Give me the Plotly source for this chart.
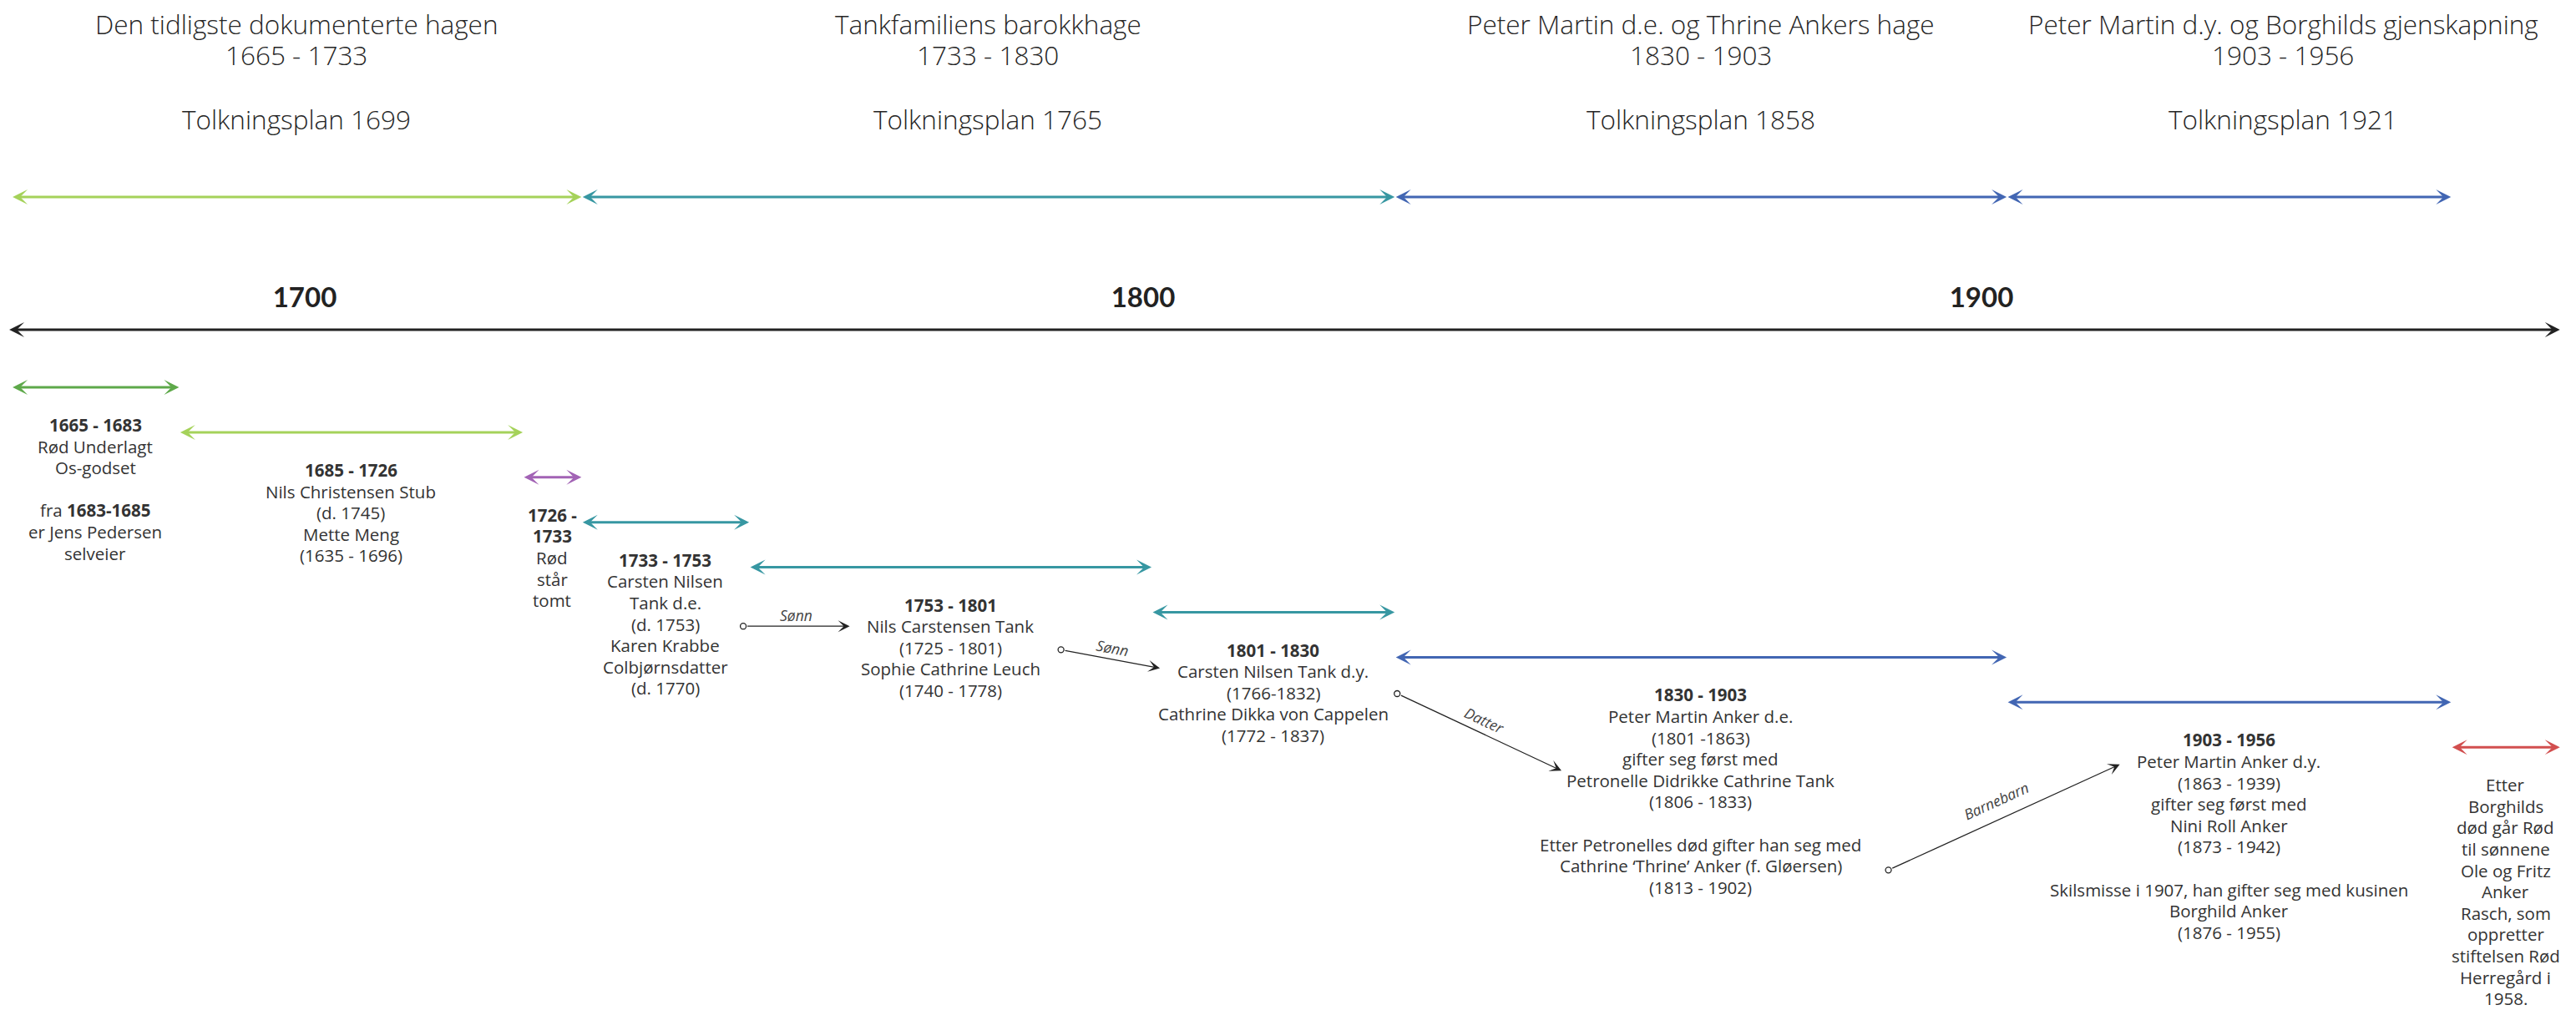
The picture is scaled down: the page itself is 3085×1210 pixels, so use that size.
import math
import plotly.graph_objects as go

# ---------------- data ----------------
period_titles = ["Den tidligste dokumenterte hagen", "Tankfamiliens barokkhage",
                 "Peter Martin d.e. og Thrine Ankers hage",
                 "Peter Martin d.y. og Borghilds gjenskapning"]
period_start = [1665, 1733, 1830, 1903]
period_end = [1733, 1830, 1903, 1956]
period_plans = ["Tolkningsplan 1699", "Tolkningsplan 1765", "Tolkningsplan 1858", "Tolkningsplan 1921"]
period_label_x = [1699, 1781.5, 1866.5, 1936]

century_ticks = [1700, 1800, 1900]
timeline_start = 1664.6
timeline_end = 1969

owner_start = [1665, 1685, 1726, 1733, 1753, 1801, 1830, 1903, 1956]
owner_end = [1685, 1726, 1733, 1753, 1801, 1830, 1903, 1956, 1969]
owner_lines = [
    ["<b>1665 - 1683</b>", "Rød Underlagt", "Os-godset", "", "fra <b>1683-1685</b>", "er Jens Pedersen", "selveier"],
    ["<b>1685 - 1726</b>", "Nils Christensen Stub", "(d. 1745)", "Mette Meng", "(1635 - 1696)"],
    ["<b>1726 -</b>", "<b>1733</b>", "Rød", "står", "tomt"],
    ["<b>1733 - 1753</b>", "Carsten Nilsen", "Tank d.e.", "(d. 1753)", "Karen Krabbe", "Colbjørnsdatter", "(d. 1770)"],
    ["<b>1753 - 1801</b>", "Nils Carstensen Tank", "(1725 - 1801)", "Sophie Cathrine Leuch", "(1740 - 1778)"],
    ["<b>1801 - 1830</b>", "Carsten Nilsen Tank d.y.", "(1766-1832)", "Cathrine Dikka von Cappelen", "(1772 - 1837)"],
    ["<b>1830 - 1903</b>", "Peter Martin Anker d.e.", "(1801 -1863)", "gifter seg først med",
     "Petronelle Didrikke Cathrine Tank", "(1806 - 1833)", "", "Etter Petronelles død gifter han seg med",
     "Cathrine ‘Thrine’ Anker (f. Gløersen)", "(1813 - 1902)"],
    ["<b>1903 - 1956</b>", "Peter Martin Anker d.y.", "(1863 - 1939)", "gifter seg først med", "Nini Roll Anker",
     "(1873 - 1942)", "", "Skilsmisse i 1907, han gifter seg med kusinen", "Borghild Anker", "(1876 - 1955)"],
    ["Etter", "Borghilds", "død går Rød", "til sønnene", "Ole og Fritz", "Anker", "Rasch, som", "oppretter",
     "stiftelsen Rød", "Herregård i", "1958."],
]

relation_from_year = [1752.3, 1790.2, 1830.3, 1888.9]
relation_to_year = [1765.0, 1802.0, 1849.9, 1916.5]
relation_labels = ["Sønn", "Sønn", "Datter", "Barnebarn"]

# ---------------- layout / style ----------------
PAGE_W, PAGE_H = 3085, 1210
BODY_MARGIN = 8                      # default browser body margin around the plot div
W = PAGE_W - BODY_MARGIN
H = PAGE_H - BODY_MARGIN
PX0 = 365.0                          # page pixel of the year 1700
PX_PER_YEAR = 10.04
x_range = [1700 - (PX0 - BODY_MARGIN) / PX_PER_YEAR,
           1700 + (BODY_MARGIN + W - PX0) / PX_PER_YEAR]
y_range = [BODY_MARGIN + H, BODY_MARGIN]   # page pixels, top-down

LT_GREEN = "#a5d25a"
DK_GREEN = "#5ea94a"
PURPLE = "#a263b5"
TEAL = "#3797a2"
BLUE = "#4266b3"
RED = "#d24f4f"
INK = "#222222"
TEXT = "#333333"

period_colors = [LT_GREEN, TEAL, BLUE, BLUE]
owner_colors = [DK_GREEN, LT_GREEN, PURPLE, TEAL, TEAL, TEAL, BLUE, BLUE, RED]

HEADER_LINE_Y = [28, 65, 142]
PERIOD_ARROW_Y = 236
AXIS_Y = 395
ROW0_Y = 464
ROW_STEP = 53.9
TEXT_GAP = 45
LINE_H = 25.6
FONT = "Open Sans"
BODY_SIZE = 20.5
HEADER_SIZE = 31.5


def row_y(i):
    return ROW0_Y + i * ROW_STEP


def line_y(row, line):
    return row_y(row) + TEXT_GAP + line * LINE_H


relation_from_pos = [(4, 1.0), (4, 2.1), (5, 2.05), (6, 8.2)]
relation_to_pos = [(4, 1.0), (5, 0.86), (6, 3.55), (7, 1.15)]
relation_label_offset = [13, 14, 16, 22]

fig = go.Figure()
annotations = []


def double_arrow(x0, x1, y, color, width=3, size=1.0):
    annotations.append(dict(
        x=x1, y=y, ax=x0, ay=y, xref="x", yref="y", axref="x", ayref="y",
        text="", showarrow=True, arrowside="end+start",
        arrowhead=3, startarrowhead=3, arrowsize=size, startarrowsize=size,
        arrowwidth=width, arrowcolor=color,
    ))


def text_line(x, y, txt, size, color, weight="normal"):
    if not txt:
        return
    annotations.append(dict(
        x=x, y=y, xref="x", yref="y", showarrow=False,
        xanchor="center", yanchor="middle", align="center", text=txt,
        font=dict(family=FONT, size=size, color=color, weight=weight),
    ))


# period headers + arrows
for i in range(len(period_titles)):
    header = [period_titles[i], f"{period_start[i]} - {period_end[i]}", period_plans[i]]
    for txt, hy in zip(header, HEADER_LINE_Y):
        text_line(period_label_x[i], hy, txt, HEADER_SIZE, "#262626", weight=300)
    double_arrow(period_start[i], period_end[i], PERIOD_ARROW_Y, period_colors[i])

# main timeline
double_arrow(timeline_start, timeline_end, AXIS_Y, INK, width=3, size=1.0)

# owners
for i in range(len(owner_start)):
    double_arrow(owner_start[i], owner_end[i], row_y(i), owner_colors[i])
    cx = (owner_start[i] + owner_end[i]) / 2
    for k, txt in enumerate(owner_lines[i]):
        text_line(cx, line_y(i, k), txt, BODY_SIZE, TEXT)

# relations
tail_x, tail_y = [], []
for i in range(len(relation_labels)):
    x0, x1 = relation_from_year[i], relation_to_year[i]
    y0 = line_y(*relation_from_pos[i])
    y1 = line_y(*relation_to_pos[i])
    tail_x.append(x0)
    tail_y.append(y0)
    annotations.append(dict(
        x=x1, y=y1, ax=x0, ay=y0, xref="x", yref="y", axref="x", ayref="y",
        text="", showarrow=True, arrowhead=3, arrowsize=1.8, arrowwidth=1.3,
        arrowcolor=INK, startstandoff=3.5,
    ))
    dx = (x1 - x0) * PX_PER_YEAR
    dy = y1 - y0
    L = math.hypot(dx, dy)
    ang = math.degrees(math.atan2(dy, dx))
    nx, ny = dy / L, -dx / L
    off = relation_label_offset[i]
    mx = (x0 + x1) / 2 + off * nx / PX_PER_YEAR
    my = (y0 + y1) / 2 + off * ny
    annotations.append(dict(
        x=mx, y=my, xref="x", yref="y", showarrow=False, textangle=ang,
        xanchor="center", yanchor="middle", text=relation_labels[i],
        font=dict(family=FONT, size=17.5, color="#444444", style="italic"),
    ))

fig.add_trace(go.Scatter(
    x=tail_x, y=tail_y, mode="markers", hoverinfo="skip", showlegend=False,
    marker=dict(symbol="circle-open", size=7, color=INK, line=dict(width=1.3, color=INK)),
))

fig.update_layout(
    width=W, height=H, margin=dict(l=0, r=0, t=0, b=0),
    paper_bgcolor="white", plot_bgcolor="white",
    showlegend=False, annotations=annotations,
    xaxis=dict(range=x_range, side="top", anchor="free",
               position=(y_range[0] - AXIS_Y) / H,
               tickvals=century_ticks, ticktext=[str(t) for t in century_ticks],
               ticks="", showline=False, showgrid=False, zeroline=False,
               ticklabelstandoff=20,
               tickfont=dict(family="Lato", size=33, color=INK, weight="bold")),
    yaxis=dict(range=y_range, visible=False),
)

fig.write_html("out.html")
